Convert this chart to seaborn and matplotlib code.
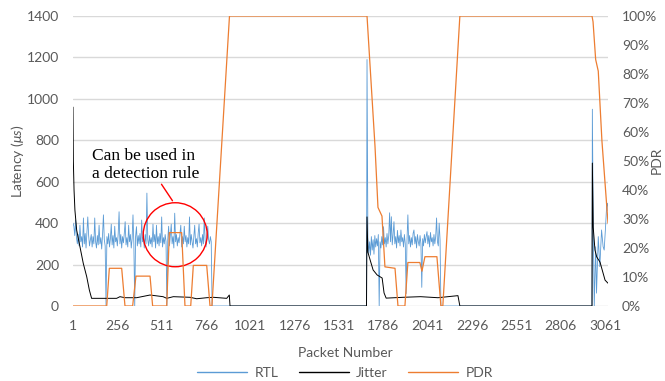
import numpy as np
import matplotlib
matplotlib.use("Agg")
import matplotlib.pyplot as plt
import seaborn as sns
from matplotlib.patches import Ellipse
from matplotlib.ticker import PercentFormatter, FixedLocator
from matplotlib.lines import Line2D

# ---------------- data ----------------
x_ticks = [1, 256, 511, 766, 1021, 1276, 1531, 1786, 2041, 2296, 2551, 2806, 3061]
lat_ticks = [0, 200, 400, 600, 800, 1000, 1200, 1400]
pdr_ticks = [0.0, 0.1, 0.2, 0.3, 0.4, 0.5, 0.6, 0.7, 0.8, 0.9, 1.0]
series_names = ["RTL", "Jitter", "PDR"]

# RTL, first burst: one reading every 5 packets starting at packet 1
rtl_seg1_first, rtl_seg_step = 1, 5
rtl_seg1 = [400, 385, 340, 415, 330, 300, 345, 290, 390, 310,
            335, 285, 425, 300, 350, 280, 360, 430, 340, 290,
            320, 345, 285, 335, 300, 425, 310, 280, 340, 295,
            390, 300, 330, 275, 345, 440, 320, 290, 0, 335,
            300, 350, 285, 325, 395, 295, 340, 280, 385, 310,
            330, 290, 350, 455, 300, 345, 280, 335, 305, 350,
            407, 295, 330, 285, 390, 310, 345, 280, 325, 440,
            300, 0, 335, 383, 290, 340, 300, 350, 285, 415,
            310, 335, 280, 345, 300, 545, 320, 290, 340, 300,
            330, 285, 395, 310, 345, 280, 390, 300, 335, 290,
            350, 305, 430, 285, 330, 300, 345, 310, 0, 320,
            385, 290, 340, 395, 300, 335, 280, 448, 310, 345,
            290, 330, 305, 350, 390, 285, 335, 300, 385, 310,
            340, 285, 330, 300, 430, 295, 345, 310, 280, 335,
            390, 300, 325, 285, 350, 395, 305, 330, 290, 345,
            300, 425, 315, 285, 340, 385, 320, 300, 335, 310]
# RTL between bursts
rtl_gap1_pk = [801, 1689, 1692]
rtl_gap1_val = [0, 0, 1190]
# RTL, second burst: one reading every 5 packets starting at packet 1697
rtl_seg2_first = 1697
rtl_seg2 = [330, 255, 310, 245, 335, 270, 320, 250, 340, 285,
            325, 290, 345, 0, 310, 280, 335, 295, 383, 300,
            330, 285, 350, 300, 340, 450, 310, 431, 295, 345,
            407, 300, 335, 280, 365, 305, 340, 290, 367, 310,
            330, 285, 345, 300, 60, 320, 440, 300, 340, 285,
            330, 295, 350, 367, 300, 335, 280, 345, 310, 290,
            340, 300, 90, 325, 290, 345, 305, 335, 359, 300,
            340, 285, 355, 310, 330, 290, 345, 300, 335, 425,
            310, 290, 400, 320]
rtl_tail_pk = [2117, 2986, 2988, 2993, 2999, 3007, 3012, 3022, 3031, 3041,
               3050, 3056, 3064, 3070, 3075, 3078]
rtl_tail_val = [0, 0, 950, 400, 0, 286, 62, 335, 190, 367,
                286, 270, 383, 480, 496, 460]

jit_pk = [1, 3, 7, 12, 22, 41, 60, 80, 95, 108,
          252, 271, 300, 367, 444, 519, 540, 578, 674, 712,
          770, 808, 885, 900, 904, 1689, 1692, 1697, 1710, 1727,
          1750, 1779, 1790, 1802, 1900, 2000, 2100, 2215, 2226, 2986,
          2988, 2993, 3003, 3013, 3032, 3061, 3078]
jit_val = [960, 700, 560, 463, 367, 286, 206, 141, 77, 37,
           37, 45, 40, 40, 53, 45, 37, 45, 42, 35,
           40, 42, 37, 53, 0, 0, 430, 260, 222, 174,
           150, 135, 63, 38, 42, 45, 40, 50, 0, 0,
           690, 380, 270, 237, 212, 125, 110]

pdr_pk = [1, 195, 210, 281, 300, 344, 363, 444, 459, 540,
          555, 626, 645, 678, 693, 770, 789, 800, 901, 1692,
          1738, 1755, 1778, 1795, 1853, 1870, 1910, 1927, 1996, 2008,
          2025, 2094, 2117, 2128, 2226, 2986, 2992, 3007, 3022, 3043,
          3078]
pdr_pct = [0, 0, 13, 13, 0, 0, 10.3, 10.3, 0, 0,
           25.3, 25.3, 0, 0, 14, 14, 0, 0, 100, 100,
           55, 34, 31, 13.5, 13, 0, 0, 15, 15, 12,
           17, 17, 0, 0, 100, 100, 98, 85, 81, 57,
           28.6]

# highlighted region (packet, latency) and its size
circle_center = (589, 344)
circle_size = (368, 309)
note_text = "Can be used in\na detection rule"

# ---------------- assemble RTL ----------------
rtl_pk = (list(range(rtl_seg1_first, rtl_seg1_first + rtl_seg_step * len(rtl_seg1), rtl_seg_step))
          + rtl_gap1_pk
          + list(range(rtl_seg2_first, rtl_seg2_first + rtl_seg_step * len(rtl_seg2), rtl_seg_step))
          + rtl_tail_pk)
rtl_val = rtl_seg1 + rtl_gap1_val + rtl_seg2 + rtl_tail_val

# ---------------- style ----------------
sns.set_theme(style="white")
plt.rcParams["font.family"] = ["Lato", "DejaVu Sans"]
plt.rcParams["mathtext.fontset"] = "custom"
plt.rcParams["mathtext.rm"] = "Lato"
plt.rcParams["mathtext.it"] = "Lato:italic"

W, H = 665, 381
fig = plt.figure(figsize=(W / 100, H / 100), dpi=100)
L, R, T, B = 73, 608, 16, 306
ax = fig.add_axes([L / W, 1 - B / H, (R - L) / W, (B - T) / H])
ax2 = ax.twinx()

c_rtl, c_jit, c_pdr = "#5B9BD5", "#000000", "#ED7D31"
grey = "#595959"

sns.lineplot(x=rtl_pk, y=rtl_val, ax=ax, color=c_rtl, lw=0.6,
             estimator=None, sort=False, zorder=2)
sns.lineplot(x=jit_pk, y=jit_val, ax=ax, color=c_jit, lw=0.7,
             estimator=None, sort=False, zorder=3)
sns.lineplot(x=pdr_pk, y=np.array(pdr_pct) / 100.0, ax=ax2, color=c_pdr, lw=0.9,
             estimator=None, sort=False, zorder=2)

ax.set_xlim(1, 3078)
ax.set_ylim(0, 1400)
ax2.set_ylim(0, 1.0)
ax.xaxis.set_major_locator(FixedLocator(x_ticks))
ax.set_xticklabels([str(t) for t in x_ticks])
ax.set_yticks(lat_ticks)
ax2.set_yticks(pdr_ticks)
ax2.yaxis.set_major_formatter(PercentFormatter(1.0, decimals=0))

ax.grid(axis="y", color="#D9D9D9", lw=1.0)
ax.grid(axis="x", visible=False)
ax2.grid(False)
ax.set_axisbelow(True)
for a in (ax, ax2):
    for s in a.spines.values():
        s.set_visible(False)
    a.tick_params(axis="both", length=0, pad=10, labelcolor=grey, labelsize=10)

ax.set_xlabel("Packet Number", color=grey, fontsize=10)
ax.xaxis.set_label_coords((345 - L) / (R - L), (B - 353) / (B - T))
ax.xaxis.label.set_va("center")
ax.set_ylabel("Latency ($\\mu s$)", color=grey, fontsize=10)
ax.yaxis.set_label_coords((18 - L) / (R - L), 0.5)
ax.yaxis.label.set_va("center")
ax2.set_ylabel("")
fig.text(657 / W, 1 - 160 / H, "PDR", rotation=90, ha="center", va="center",
         color=grey, fontsize=10)

# annotation
ell = Ellipse(circle_center, circle_size[0], circle_size[1], fill=False,
              edgecolor="#FF0000", lw=1.0, zorder=5)
ax.add_patch(ell)
ax.text(110, 681, note_text, family=["Liberation Serif"], fontsize=12.5,
        ha="left", va="center", color="black", zorder=6, linespacing=1.2)
ax.annotate("", xy=(582, 497), xytext=(501, 599),
            arrowprops=dict(arrowstyle="-", color="#FF0000", lw=1.0), zorder=6)

handles = [Line2D([], [], color=c_rtl, lw=1.0),
           Line2D([], [], color=c_jit, lw=1.0),
           Line2D([], [], color=c_pdr, lw=1.0)]
leg = fig.legend(handles, series_names, loc="center", bbox_to_anchor=(345 / W, 1 - 373 / H),
                 ncol=3, frameon=False, fontsize=10, handlelength=3.6,
                 handletextpad=0.5, columnspacing=1.5)
for t in leg.get_texts():
    t.set_color(grey)

fig.savefig("out.png", dpi=100)
